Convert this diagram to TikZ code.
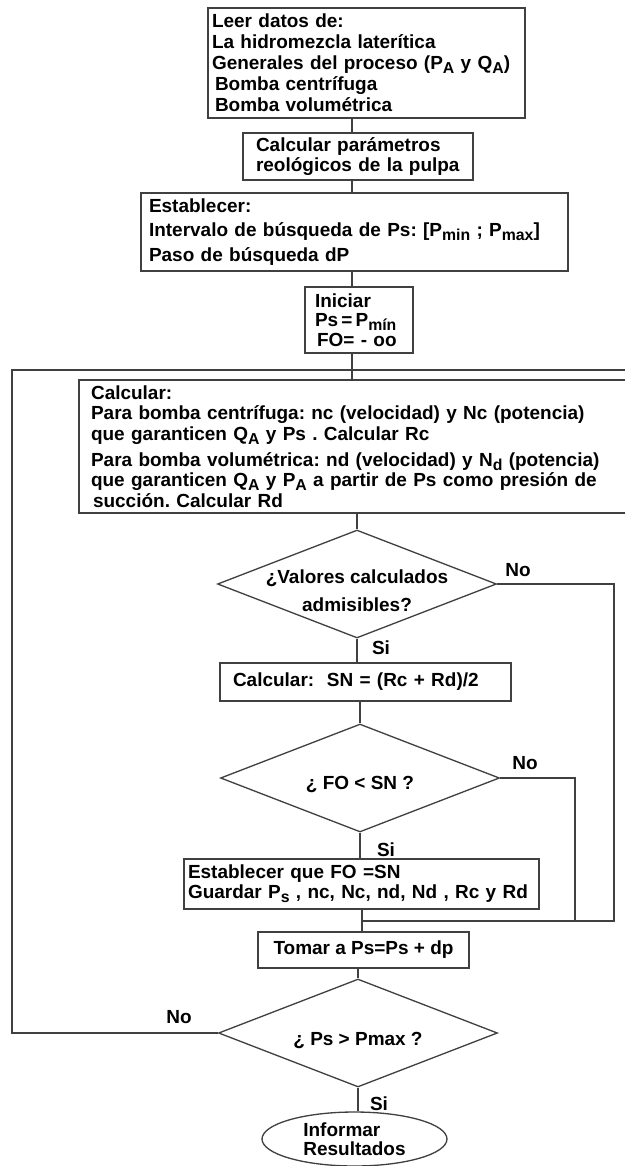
\documentclass[tikz,border=0pt]{standalone}
\usepackage{fontspec}
\setmainfont{Liberation Sans}
\usepackage{tikz}
\tikzset{>=latex}
\usetikzlibrary{shapes.geometric,positioning,calc}
\tikzset{
  linea/.style={draw=black!75, line width=0.75pt},
  caja/.style={linea, rectangle, align=left, inner ysep=0pt, font=\bfseries\fontsize{10.8}{12}\selectfont},
  decision/.style={linea, diamond, minimum width=5.58cm, minimum height=2.16cm, inner sep=0pt},
  texto/.style={font=\bfseries\fontsize{10.8}{12}\selectfont, inner sep=0pt, align=center},
  fin/.style={linea, ellipse, minimum width=3.7cm, minimum height=1.08cm, inner sep=0pt, align=left, font=\bfseries\fontsize{10.8}{10.8}\selectfont},
  etiq/.style={font=\bfseries\fontsize{10.8}{12}\selectfont, inner sep=0pt}
}
\newcommand{\dn}[1]{\raisebox{-0.4ex}{\fontsize{9}{9}\selectfont #1}}
\frenchspacing

\begin{document}
\begin{tikzpicture}[x=0.02cm, y=-0.02cm]
    \useasboundingbox (0,0) rectangle (625,1166);

    \node[caja, minimum width=6.34cm, minimum height=2.2cm, inner xsep=0.08cm, text width=6.18cm] (leer) at (366.5,63)
        {Leer datos de:\\
         La hidromezcla laterítica\\
         Generales del proceso (P\dn{A} y Q\dn{A})\\
         \hspace*{0.06cm}Bomba centrífuga\\
         \hspace*{0.06cm}Bomba volumétrica};
    \node[caja, minimum width=4.6cm, minimum height=0.94cm, inner xsep=0.26cm, text width=4.08cm,
          font=\bfseries\fontsize{10.8}{11.4}\selectfont] (param) at (358,156.5)
        {Calcular parámetros\\ reológicos de la pulpa};
    \node[caja, minimum width=8.54cm, minimum height=1.56cm, inner xsep=0.16cm, text width=8.22cm,
          font=\bfseries\fontsize{10.8}{14}\selectfont] (estab) at (354.5,232)
        {Establecer:\\
         Intervalo de búsqueda de Ps: [P\dn{min} ; P\dn{max}]\\
         Paso de búsqueda dP};
    \node[caja, minimum width=2.16cm, minimum height=1.32cm, inner xsep=0.2cm, text width=1.76cm,
          font=\bfseries\fontsize{10.8}{11.2}\selectfont] (inic) at (359,320)
        {Iniciar\\ Ps\,=\,P\dn{mín}\\ \hspace*{0.04cm}FO= - oo};
    \node[caja, minimum width=11.22cm, minimum height=2.66cm, inner xsep=0.24cm, text width=10.74cm,
          font=\bfseries\fontsize{10.8}{11.7}\selectfont] (calc) at (359.5,446.5)
        {Calcular:\\
         Para bomba centrífuga: nc (velocidad) y Nc (potencia)\\
         que garanticen Q\dn{A} y Ps . Calcular Rc\\[3pt]
         Para bomba volumétrica: nd (velocidad) y N\dn{d} (potencia)\\
         que garanticen Q\dn{A}\ y P\dn{A}\ a partir de Ps como presión de\\
         \hspace*{0.04cm}succión. Calcular Rd};

    \node[decision, label={[texto, yshift=-0.14cm, font=\bfseries\fontsize{10.8}{16}\selectfont]center:¿Valores calculados\\ admisibles?}] (d1) at (357,584) {};
    \node[caja, minimum width=5.82cm, minimum height=0.76cm, inner xsep=0.26cm, text width=5.3cm] (sn) at (365.5,682)
        {Calcular:\ \ SN = (Rc + Rd)/2};
    \node[decision, label={[texto, yshift=-0.12cm]center:¿ FO < SN ?}] (d2) at (360,778) {};
    \node[caja, minimum width=7.1cm, minimum height=1.0cm, inner xsep=0.08cm, text width=6.94cm,
          font=\bfseries\fontsize{10.8}{11.4}\selectfont] (guard) at (361.5,884)
        {Establecer que FO =SN\\
         Guardar P\dn{s} , nc, Nc, nd, Nd , Rc y Rd};
    \node[caja, minimum width=4.22cm, minimum height=0.72cm, align=center] (tomar) at (363.5,950)
        {Tomar a Ps=Ps + dp};
    \node[decision, label={[texto, yshift=-0.14cm]center:¿ Ps > Pmax ?}] (d3) at (358,1033) {};
    \node[fin] (result) at (354.5,1139) {Informar\\ Resultados};

    \node[etiq] (no1) at (518,570) {No};
    \node[etiq] (si1) at (381,648) {Si};
    \node[etiq] (no2) at (525,763) {No};
    \node[etiq] (si2) at (386,850) {Si};
    \node[etiq] (no3) at (179,1017) {No};
    \node[etiq] (si3) at (379,1104) {Si};

    \coordinate (eje) at (352,0);
    \coordinate (junta) at (352,370);
    \coordinate (borde) at (640,370);
    \coordinate (izq) at (12,0);
    \coordinate (der1) at (614,0);
    \coordinate (der2) at (575,0);
    \coordinate (une) at (362,921);

    % tronco principal
    \draw[linea] (leer.south -| eje) -- (param.north -| eje);
    \draw[linea] (param.south -| eje) -- (estab.north -| eje);
    \draw[linea] (estab.south -| eje) -- (inic.north -| eje);
    \draw[linea] (inic.south -| eje) -- (calc.north -| eje);
    \draw[linea] (calc.south -| d1.north) -- (d1.north);
    \draw[linea] (d1.south) -- (d1.south |- sn.north);
    \draw[linea] (sn.south -| d2.north) -- (d2.north);
    \draw[linea] (d2.south) -- (d2.south |- guard.north);
    \draw[linea] (guard.south -| une) -- (tomar.north -| une);
    \draw[linea] (tomar.south -| d3.north) -- (d3.north);
    \draw[linea] (d3.south) -- (result.north -| d3.south);

    % retornos
    \draw[linea] (d1.east) -| (der1 |- une) -- (une);
    \draw[linea] (d2.east) -| (der2 |- une);
    \draw[linea] (d3.west) -| (izq |- junta) -- (junta) -- (borde);
\end{tikzpicture}
\end{document}
